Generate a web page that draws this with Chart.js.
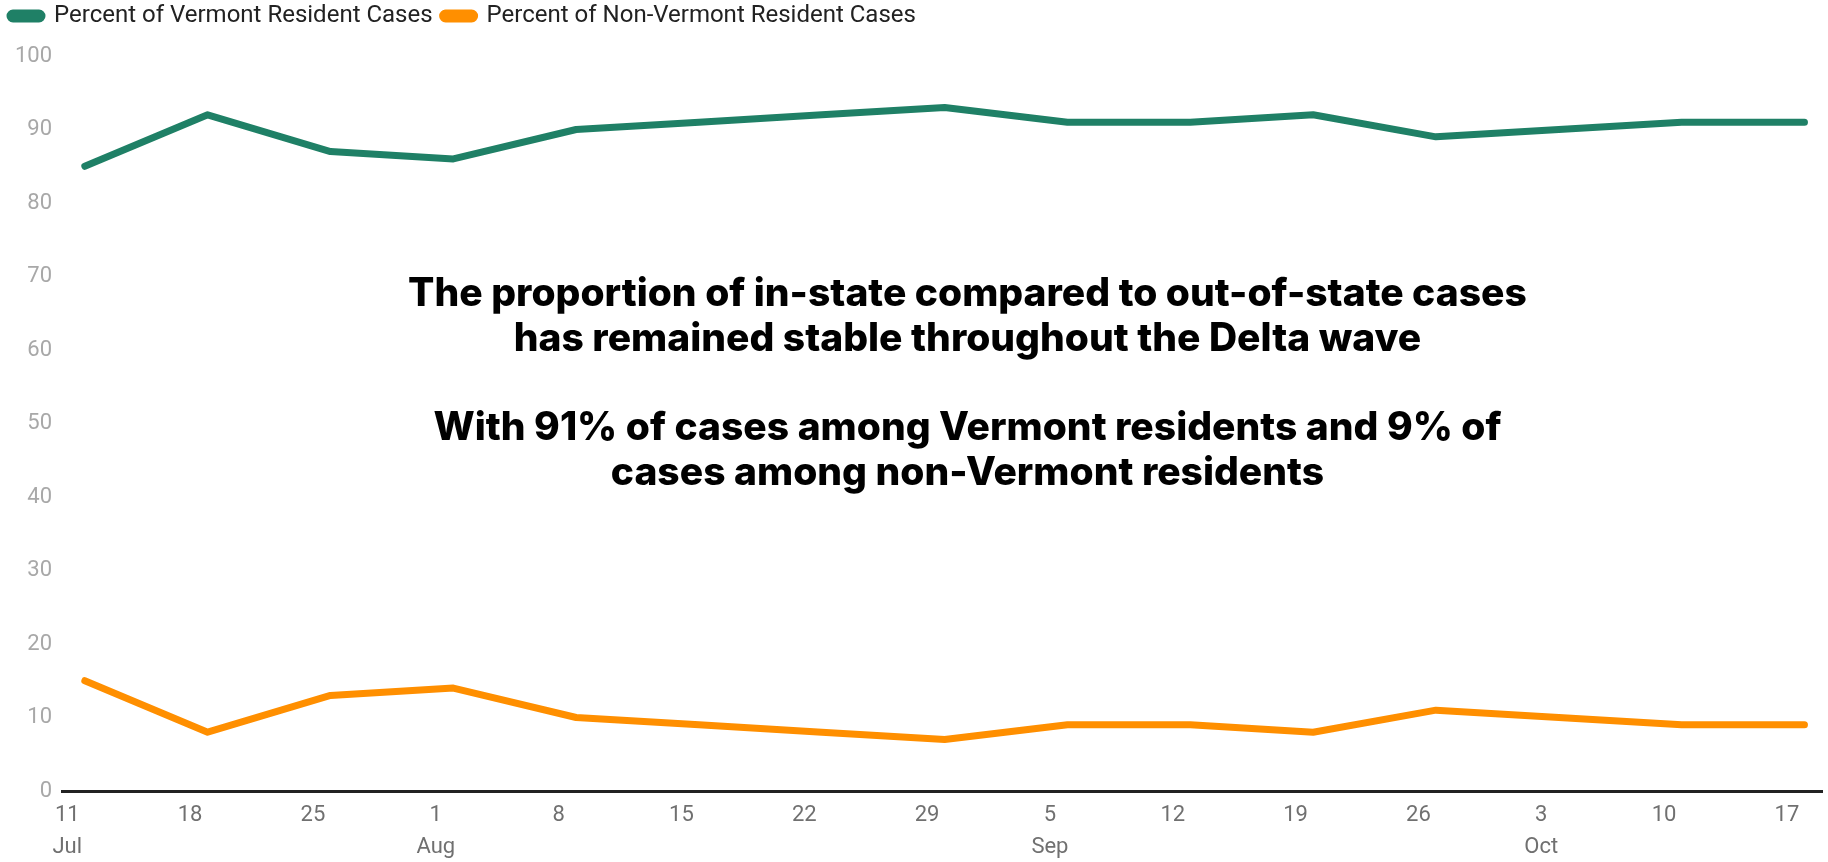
<!DOCTYPE html>
<html>
<head>
<meta charset="utf-8">
<script src="https://cdn.jsdelivr.net/npm/chart.js@4/dist/chart.umd.min.js"></script>
<style>
  html, body { margin: 0; padding: 0; background: #fff; }
  #wrap { width: 1828px; height: 862px; position: relative; }
</style>
</head>
<body>
<div id="wrap"><canvas id="vt-chart"></canvas></div>
<script>
// Weekly share of cases, Vermont vs non-Vermont residents (Delta wave)
// x = days after Jul 11
const weekDays = [1, 8, 15, 22, 29, 36, 43, 50, 57, 64, 71, 78, 85, 92, 99];
const vermontPct = [85, 92, 87, 86, 90, 91, 92, 93, 91, 91, 92, 89, 90, 91, 91];
const nonVermontPct = [15, 8, 13, 14, 10, 9, 8, 7, 9, 9, 8, 11, 10, 9, 9];

const tickDays = [0, 7, 14, 21, 28, 35, 42, 49, 56, 63, 70, 77, 84, 91, 98];
const tickLabels = [
  ['11', 'Jul'], ['18'], ['25'], ['1', 'Aug'], ['8'], ['15'], ['22'], ['29'],
  ['5', 'Sep'], ['12'], ['19'], ['26'], ['3', 'Oct'], ['10'], ['17']
];

const noteLines = [
  'The proportion of in-state compared to out-of-state cases',
  'has remained stable throughout the Delta wave',
  '',
  'With 91% of cases among Vermont residents and 9% of',
  'cases among non-Vermont residents'
];

const GREEN = '#1f8066';
const ORANGE = '#ff8f00';

const toPoints = (vals) => vals.map((v, i) => ({ x: weekDays[i], y: v }));

// centred note drawn over the plot, anchored to data coords
const notePlugin = {
  id: 'note',
  afterDatasetsDraw(chart) {
    const { ctx, scales } = chart;
    const cx = scales.x.getPixelForValue(51.3);
    let y = scales.y.getPixelForValue(67.6);
    const step = scales.y.getPixelForValue(0) - scales.y.getPixelForValue(6.1);
    ctx.save();
    ctx.fillStyle = '#000';
    ctx.font = '800 39px Inter';
    ctx.textAlign = 'center';
    ctx.textBaseline = 'middle';
    noteLines.forEach(line => {
      if (line) ctx.fillText(line, cx, y);
      y += step;
    });
    ctx.restore();
  }
};

// extra room between legend and plot
const legendGap = {
  id: 'legendGap',
  beforeInit(chart) {
    const fit = chart.legend.fit;
    chart.legend.fit = function () {
      fit.bind(chart.legend)();
      this.height += 18;
    };
  }
};

new Chart(document.getElementById('vt-chart'), {
  type: 'line',
  data: {
    datasets: [{
      label: 'Percent of Vermont Resident Cases',
      data: toPoints(vermontPct),
      borderColor: GREEN,
      backgroundColor: GREEN,
      borderWidth: 7,
      pointRadius: 0,
      borderCapStyle: 'round',
      borderJoinStyle: 'round',
      tension: 0
    }, {
      label: 'Percent of Non-Vermont Resident Cases',
      data: toPoints(nonVermontPct),
      borderColor: ORANGE,
      backgroundColor: ORANGE,
      borderWidth: 7,
      pointRadius: 0,
      borderCapStyle: 'round',
      borderJoinStyle: 'round',
      tension: 0
    }]
  },
  options: {
    responsive: true,
    maintainAspectRatio: false,
    animation: false,
    layout: { padding: { top: -6, right: 6, bottom: 0, left: 0 } },
    plugins: {
      legend: {
        position: 'top',
        align: 'start',
        labels: {
          color: '#222',
          font: { family: 'Roboto', size: 24 },
          boxWidth: 32,
          boxHeight: 6,
          useBorderRadius: true,
          borderRadius: 3,
          padding: 10
        }
      },
      tooltip: { enabled: false }
    },
    scales: {
      x: {
        type: 'linear',
        min: -0.3,
        max: 100,
        afterBuildTicks: (axis) => {
          axis.ticks = tickDays.map(v => ({ value: v }));
        },
        afterFit: (axis) => { axis.height = 71; },
        grid: { display: false, drawTicks: false },
        border: { display: true, color: '#222', width: 3 },
        ticks: {
          autoSkip: false,
          maxRotation: 0,
          padding: 9,
          color: '#707070',
          font: { family: 'Roboto', size: 22, lineHeight: 1.45 },
          callback: (value) => tickLabels[tickDays.indexOf(value)]
        }
      },
      y: {
        min: 0,
        max: 100,
        afterFit: (axis) => { axis.width = 62; },
        grid: { display: false, drawTicks: false },
        border: { display: false },
        ticks: {
          stepSize: 10,
          padding: 10,
          color: '#a8a8a8',
          font: { family: 'Roboto', size: 22 }
        }
      }
    }
  },
  plugins: [notePlugin, legendGap]
});
</script>
</body>
</html>
